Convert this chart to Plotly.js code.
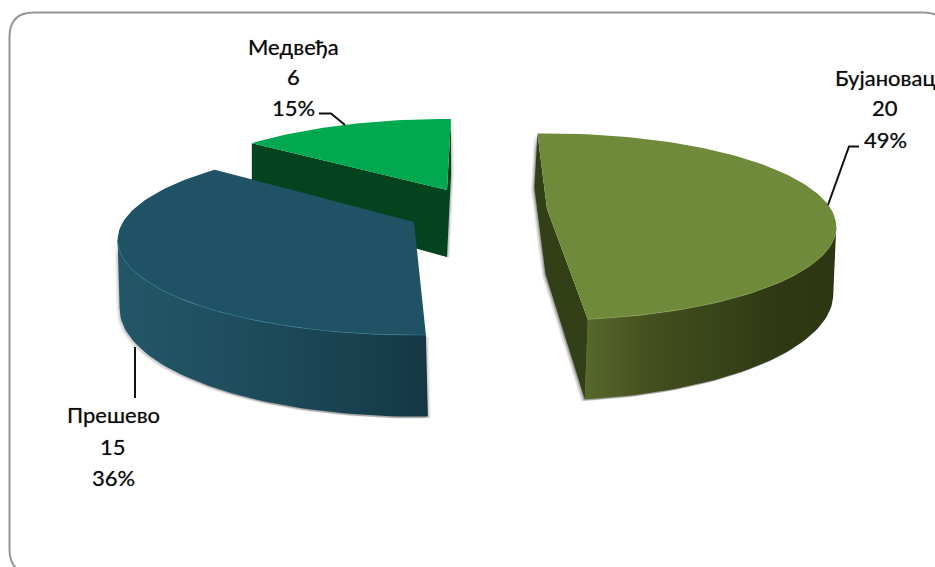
<!DOCTYPE html>
<html>
<head>
<meta charset="utf-8">
<script src="https://cdn.plot.ly/plotly-3.0.1.min.js"></script>
<style>html,body{margin:0;padding:0;background:#fff}#chart{width:935px;height:567px}</style>
</head>
<body>
<div id="chart"></div>
<script>
// Data
const names = ['Бујановац', 'Прешево', 'Медвеђа'];
const values = [20, 15, 6];
const percents = [49, 36, 15];

// Drawing order and look of each exploded slice (pie angles come from the values)
const total = values.reduce((a, b) => a + b, 0);
const K = 0.19; // perspective of the tilted disc
const look = [
  {i: 2, start: 308.3, ax: 447, ay: 190, rx: 278, ry: 84.5, depth: 67, lean: 0,
   shadow: [[2.5, 1, 0.10], [1.2, 0.5, 0.16]],
   top: '#00a84f', cut: '#03441f', wall: ['#03441f', '#03441f']},
  {i: 1, start: 178.1, ax: 414, ay: 222, rx: 291, ry: 91.6, depth: 66, lean: 2,
   shadow: [[-3, 2, 0.07], [3, 2, 0.07], [-1.5, 1.5, 0.12], [1.5, 1.5, 0.12]],
   top: '#1f5264', cut: '#16394a', wall: ['#225666', '#1f4f5f', '#1a4453', '#153744'], rim: '#2f7288'},
  {i: 0, start: -2.3, ax: 547, ay: 209, rx: 284, ry: 90, depth: 65, lean: -3,
   shadow: [[-3.5, 2, 0.10], [-2, 1.5, 0.15], [-1, 1, 0.2]],
   top: '#6f8a3a', cut: '#333f17', wall: ['#58692b', '#454f1f', '#39451a', '#2f3a14', '#2c3612'], rim: '#7f9a48'}
];

function project(s, deg, down) {
  const t = deg * Math.PI / 180, u = Math.sin(t), v = Math.cos(t), w = 1 + K * v;
  return [s.ax + s.rx * u / w + (down ? s.lean : 0), s.ay - s.ry * v / w + (down ? s.depth / w : 0)];
}
function arc(s, a, b, down) {
  const n = Math.max(2, Math.ceil(Math.abs(b - a) / 1.5)), pts = [];
  for (let j = 0; j <= n; j++) pts.push(project(s, a + (b - a) * j / n, down));
  return pts;
}
function apex(s, down) { return [s.ax + (down ? s.lean / 2 : 0), s.ay + (down ? s.depth : 0)]; }
function poly(pts, extra) {
  return Object.assign({
    x: pts.map(p => p[0]).concat([pts[0][0]]),
    y: pts.map(p => p[1]).concat([pts[0][1]]),
    type: 'scatter', mode: 'lines', fill: 'toself', hoverinfo: 'skip',
    line: {width: 0, color: 'rgba(0,0,0,0)'}, showlegend: false
  }, extra);
}
function shifted(pts, dx, dy) { return pts.map(p => [p[0] + dx, p[1] + dy]); }

const traces = [];
const tangent = Math.acos(-K) * 180 / Math.PI;
look.forEach(s => {
  const sweep = values[s.i] / total * 360, a = s.start, b = s.start + sweep;
  const topPts = [apex(s, false)].concat(arc(s, a, b, false));
  // outer wall: only the part of the rim that faces the viewer
  const lo = Math.max(a, tangent), hi = Math.min(b, 360 - tangent);
  let wallPts = null;
  if (hi > lo) wallPts = arc(s, lo, hi, false).concat(arc(s, hi, lo, true));
  // cut face that faces the viewer
  let cutPts = null;
  if (s.i !== 1) {
    cutPts = [project(s, a), apex(s, false), project(s, b), project(s, b, true), apex(s, true), project(s, a, true)];
  }
  // soft shadow
  s.shadow.forEach(d => {
    const fill = {fillcolor: 'rgba(0,0,0,' + d[2] + ')'};
    if (wallPts) traces.push(poly(shifted(wallPts, d[0], d[1]), fill));
    if (cutPts) traces.push(poly(shifted(cutPts, d[0], d[1]), fill));
  });
  if (wallPts) {
    const n = s.wall.length - 1;
    traces.push(poly(wallPts, {
      fillcolor: s.wall[0],
      fillgradient: {type: 'horizontal', colorscale: s.wall.map((c, j) => [j / n, c])}
    }));
  }
  if (cutPts) traces.push(poly(cutPts, {fillcolor: s.cut}));
  traces.push(poly(topPts, {fillcolor: s.top}));
  if (s.rim && hi > lo) {
    const r = arc(s, lo, hi, false);
    traces.push({x: r.map(p => p[0]), y: r.map(p => p[1]), type: 'scatter', mode: 'lines', hoverinfo: 'skip',
      line: {width: 1.2, color: s.rim}, opacity: 0.7, showlegend: false});
  }
});

// Leader lines
const leaders = [
  {x: [859, 849, 828], y: [146.5, 146.5, 205]},
  {x: [135, 135], y: [347, 398]},
  {x: [319, 331, 345], y: [113.5, 113.5, 125]}
];
leaders.forEach(l => traces.push({x: l.x, y: l.y, type: 'scatter', mode: 'lines', hoverinfo: 'skip',
  line: {width: 2, color: '#111'}, showlegend: false}));

// Labels
const anchors = [
  {x: 885, y: [77, 107, 139]},
  {x: 113, y: [414, 446, 477]},
  {x: 293, y: [46, 76, 107]}
];
const annotations = [];
names.forEach((nm, i) => {
  [nm, String(values[i]), percents[i] + '%'].forEach((txt, j) => annotations.push({
    x: anchors[i].x, y: anchors[i].y[j], xref: 'x', yref: 'y', text: txt, showarrow: false,
    xanchor: 'center', yanchor: 'middle',
    font: {family: 'Lato, "Open Sans", "Noto Sans", sans-serif', size: 22, color: '#0c0c0c',
           shadow: '0 0 1px rgba(0,0,0,0.5)'}
  }));
});

const layout = {
  width: 935, height: 567,
  margin: {l: 0, r: 0, t: 0, b: 0},
  paper_bgcolor: '#fff', plot_bgcolor: '#fff',
  xaxis: {range: [0, 935], visible: false, fixedrange: true},
  yaxis: {range: [567, 0], visible: false, fixedrange: true},
  showlegend: false,
  annotations: annotations,
  shapes: [{
    type: 'path', xref: 'x', yref: 'y', layer: 'below',
    path: 'M 34 574 Q 9.5 574 9.5 549 L 9.5 37 Q 9.5 12.5 34 12.5 L 923 12.5 Q 948 12.5 948 37',
    line: {color: '#969696', width: 2}
  }]
};
Plotly.newPlot('chart', traces, layout, {displayModeBar: false, staticPlot: true});
</script>
</body>
</html>
